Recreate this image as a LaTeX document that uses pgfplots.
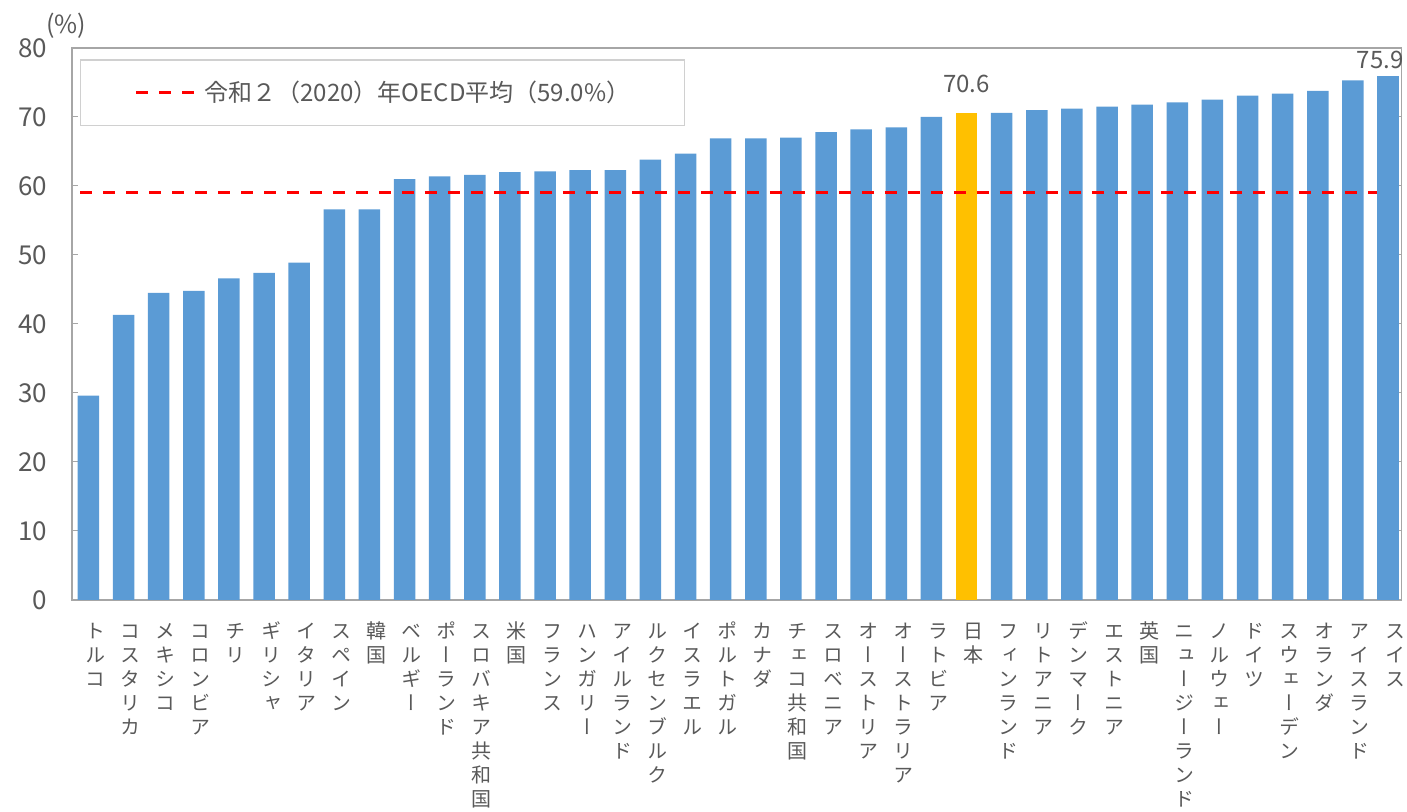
\documentclass[border=0pt]{standalone}
\usepackage{fontspec}
\setmainfont{Noto Sans CJK JP}
\newfontfamily\vfont[RawFeature={+vert}]{Noto Sans CJK JP}
\usepackage{pgfplots}
\pgfplotsset{compat=1.18}

\definecolor{barblue}{HTML}{5B9BD5}
\definecolor{bargold}{HTML}{FFC000}
\definecolor{txt}{HTML}{595959}
\definecolor{frame}{HTML}{A6A6A6}
\definecolor{legframe}{HTML}{D0D0D0}

% vertical (one character per line) category labels
\makeatletter
\def\vt@a#1{\ifx\relax#1\else\hbox to 1em{\hss\rule{0pt}{0.88em}#1\hss}\expandafter\vt@a\fi}
\protected\def\vt#1{\vtop{\vfont\fontsize{10pt}{12pt}\selectfont\baselineskip=12pt\vt@a#1\relax}}
\makeatother

% legend sample for the average line
\pgfplotsset{avgline legend/.code={\pgfplotsset{legend image code/.code={\draw[##1] (0pt,0pt) -- (29pt,0pt);}}}}

% employment rate of the elderly, OECD members (%)
\pgfplotstableread{
x  y
0  29.6
1  41.3
2  44.5
3  44.8
4  46.6
5  47.4
6  48.9
7  56.6
8  56.6
9  61.0
10 61.4
11 61.6
12 62.0
13 62.1
14 62.3
15 62.3
16 63.8
17 64.7
18 66.9
19 66.9
20 67.0
21 67.8
22 68.2
23 68.5
24 70.0
26 70.6
27 71.0
28 71.2
29 71.5
30 71.8
31 72.1
32 72.5
33 73.1
34 73.4
35 73.8
36 75.3
}\others

\begin{document}
\begin{tikzpicture}
\begin{axis}[
  name=ax,
  scale only axis,
  width=665pt, height=276pt,
  xmin=-0.47, xmax=37.39,
  ymin=0, ymax=80,
  ytick={0,10,...,80},
  xtick={0,...,37},
  xticklabels={\vt{トルコ},\vt{コスタリカ},\vt{メキシコ},\vt{コロンビア},\vt{チリ},\vt{ギリシャ},\vt{イタリア},\vt{スペイン},\vt{韓国},\vt{ベルギー},\vt{ポーランド},\vt{スロバキア共和国},\vt{米国},\vt{フランス},\vt{ハンガリー},\vt{アイルランド},\vt{ルクセンブルク},\vt{イスラエル},\vt{ポルトガル},\vt{カナダ},\vt{チェコ共和国},\vt{スロベニア},\vt{オーストリア},\vt{オーストラリア},\vt{ラトビア},\vt{日本},\vt{フィンランド},\vt{リトアニア},\vt{デンマーク},\vt{エストニア},\vt{英国},\vt{ニュージーランド},\vt{ノルウェー},\vt{ドイツ},\vt{スウェーデン},\vt{オランダ},\vt{アイスランド},\vt{スイス}},
  ybar, bar width=10.75pt, bar shift=0pt,
  axis line style={frame, line width=0.75pt},
  tick align=inside,
  major tick length=3pt,
  y tick style={frame, line width=0.5pt},
  x tick style={draw=none},
  /pgf/number format/assume math mode=true,
  yticklabel style={font=\fontsize{13pt}{15pt}\selectfont, text=txt, xshift=-9pt},
  xticklabel style={text=txt, xshift=3.5pt, yshift=-7pt},
  legend style={
    at={(0.006,0.98)}, anchor=north west,
    draw=legframe, line width=0.75pt,
    inner xsep=27pt, inner ysep=10.5pt,
    nodes={inner sep=0pt},
    column sep=4.5pt,
    font=\fontsize{12pt}{14pt}\selectfont, text=txt,
  },
  clip=false,
]
% bars
\addplot[fill=barblue, draw=none, forget plot] table[x=x, y=y] {\others};
\addplot[fill=bargold, draw=none, forget plot,
  nodes near coords,
  every node near coord/.append style={font=\fontsize{12pt}{14pt}\selectfont, text=txt, yshift=6.5pt}]
  coordinates {(25,70.6)};
\addplot[fill=barblue, draw=none, forget plot,
  nodes near coords,
  every node near coord/.append style={font=\fontsize{12pt}{14pt}\selectfont, text=txt, xshift=-4pt, yshift=0pt}]
  coordinates {(37,75.9)};
% OECD average
\addplot[sharp plot, red, line width=1.5pt, dash pattern=on 6pt off 5.5pt, avgline legend]
  coordinates {(-0.24,59.0) (36.7,59.0)};
\addlegendentry{令和２（2020）年OECD平均（59.0\%）\hspace{5pt}}
\node[font=\fontsize{12.5pt}{14pt}\selectfont, text=txt] at (rel axis cs:0,1) [xshift=-3pt, yshift=11pt] {(\%)};
\end{axis}
\pgfresetboundingbox
\path ([shift={(-36pt,-106pt)}]ax.south west) rectangle ([shift={(2.65pt,24pt)}]ax.north east);
\end{tikzpicture}
\end{document}
